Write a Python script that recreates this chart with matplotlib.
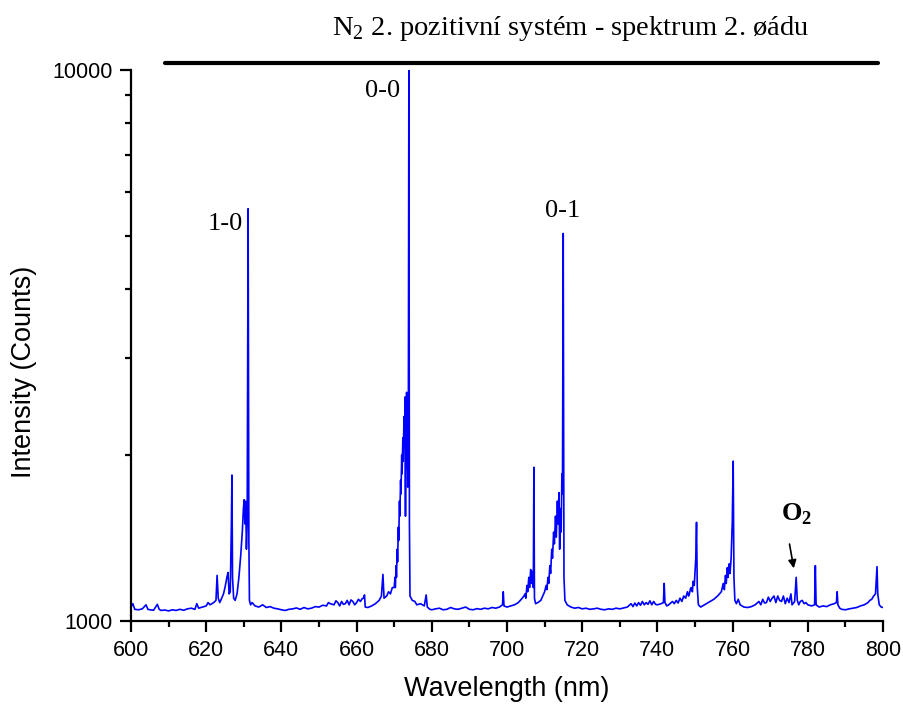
import matplotlib
matplotlib.use("Agg")
import matplotlib.pyplot as plt
import matplotlib.transforms as mtransforms
from matplotlib.ticker import LogLocator, NullFormatter, FixedLocator

plt.rcParams['mathtext.fontset'] = 'custom'
plt.rcParams['mathtext.rm'] = 'Liberation Serif'
plt.rcParams['mathtext.bf'] = 'Liberation Serif:bold'

# spectrum (nm, counts)
wavelength = [
    600, 600.5, 601, 602, 603, 604, 604.5, 605, 606, 607, 607.5, 608, 609, 610,
    611, 612, 613, 614, 615, 616, 617, 617.5, 618, 619, 620, 620.5, 621, 622,
    622.6, 622.9, 623.2, 623.6, 624, 624.6, 625, 625.5, 625.8, 626.1, 626.4,
    626.7, 626.85, 627.0, 627.3, 627.7, 628.2, 628.7, 629.2, 629.6, 629.9,
    630.1, 630.3, 630.5, 630.7, 630.9, 631.15, 631.35, 631.5, 631.8, 632.2,
    633, 634, 635, 636, 637, 638, 639, 640, 641, 642, 643, 644, 645, 646, 647,
    648, 649, 650, 651, 652, 652.5, 653, 654, 654.5, 655, 655.5, 656, 656.5,
    657, 657.5, 658, 658.5, 659, 659.5, 660, 660.5, 661, 661.5, 661.8, 662.1,
    662.3, 663, 664, 665, 666, 666.6, 667.0, 667.3, 668, 668.5, 669, 669.5,
    670.0, 670.2, 670.3, 670.5, 670.6, 670.8, 670.9, 671.1, 671.2, 671.4,
    671.5, 671.7, 671.8, 672.0, 672.1, 672.3, 672.4, 672.6, 672.7, 672.9,
    673.0, 673.1, 673.2, 673.3, 673.4, 673.5, 673.6, 673.75, 673.9, 674.05,
    674.2, 674.8, 675.5, 676, 677, 678, 678.5, 678.8, 679.5, 680, 681,
    682, 683, 684, 685, 686, 687, 688, 689, 690, 691, 692, 693, 694, 695, 696,
    697, 698, 698.8, 699.0, 699.2, 700, 701, 702, 703, 703.8, 704.5, 704.8,
    705.0, 705.3, 705.5, 705.8, 706.0, 706.3, 706.5, 706.8, 707.0, 707.15,
    707.3, 707.6, 708.2, 709.0, 709.5, 710.0, 710.4, 710.6, 710.9, 711.1,
    711.4, 711.6, 711.9, 712.1, 712.4, 712.6, 712.9, 713.1, 713.4, 713.6,
    713.8, 714.0, 714.2, 714.4, 714.6, 714.75, 714.95, 715.15, 715.4, 716,
    717, 718, 719, 720, 721, 722, 723, 724, 725, 726, 727, 728, 729, 730, 731,
    732, 733, 733.5, 734, 734.5, 735, 735.5, 736, 736.5, 737, 737.5, 738,
    738.5, 739, 739.5, 740, 741, 741.6, 741.8, 742.0, 742.5, 743, 744, 744.5,
    745, 745.5, 746, 746.5, 747, 747.5, 748, 748.3, 748.5, 748.8, 749, 749.3,
    749.5, 749.8, 750.2, 750.4, 750.6, 750.9, 751.5, 752, 753, 754, 755, 756,
    757.0, 757.5, 757.8, 758.1, 758.3, 758.6, 758.8, 759.1, 759.3, 759.6,
    759.9, 760.15, 760.35, 760.6, 761, 761.5, 762, 763, 764, 765, 766, 767,
    767.5, 768, 768.5, 769, 769.5, 770, 770.5, 771, 771.5, 772, 772.5, 773,
    773.5, 774, 774.5, 775, 775.5, 775.8, 776.5, 776.9, 777.2, 777.6, 778,
    778.5, 779, 779.5, 780, 781, 781.8, 782.0, 782.2, 783, 784, 785, 786, 787,
    787.6, 787.8, 788.0, 788.5, 789, 790, 791, 792, 793, 794, 795, 796, 796.5,
    797, 797.5, 798, 798.4, 798.6, 799, 799.5, 800,
]
counts = [
    1060, 1075, 1050, 1048, 1052, 1070, 1050, 1048, 1046, 1072, 1050, 1045, 1047, 1043,
    1048, 1045, 1050, 1046, 1052, 1055, 1050, 1075, 1055, 1060, 1065, 1080, 1070, 1080,
    1090, 1210, 1100, 1080, 1095, 1120, 1150, 1200, 1225, 1120, 1130,
    1500, 1840, 1200, 1100, 1090, 1120, 1200, 1320, 1450, 1600,
    1660, 1500, 1650, 1350, 1500, 5600, 1400, 1090, 1070, 1080,
    1065, 1060, 1070, 1058, 1062, 1055, 1052, 1048, 1045, 1050, 1052, 1056, 1050, 1058, 1052,
    1055, 1062, 1060, 1068, 1065, 1080, 1075, 1070, 1088, 1080, 1065, 1085, 1072,
    1075, 1090, 1070, 1092, 1085, 1070, 1080, 1095, 1085, 1098, 1100, 1115,
    1060, 1058, 1065, 1075, 1090, 1110, 1215, 1100, 1110, 1130, 1120, 1150,
    1150, 1200, 1150, 1260, 1200, 1350, 1280, 1480, 1400, 1650,
    1550, 1800, 1700, 2000, 1850, 2150, 1950, 2350, 2100, 2550,
    1550, 2400, 2000, 2600, 1900, 2200, 1750, 2000, 10000, 1500,
    1110, 1090, 1085, 1070, 1075, 1065, 1115, 1060, 1050, 1048, 1052,
    1055, 1048, 1050, 1058, 1052, 1050, 1055, 1060, 1050, 1048, 1053, 1050, 1055, 1052, 1058,
    1055, 1060, 1070, 1130, 1065, 1060, 1065, 1070, 1080, 1095, 1110, 1120,
    1100, 1160, 1130, 1200, 1150, 1240, 1170, 1230, 1150, 1900,
    1100, 1075, 1080, 1090, 1110, 1130, 1160, 1140, 1200, 1170,
    1260, 1220, 1350, 1300, 1450, 1380, 1550, 1420, 1650, 1500,
    1710, 1350, 1600, 1450, 1850, 1700, 5050, 1200, 1090, 1070,
    1060, 1055, 1058, 1052, 1055, 1050, 1052, 1055, 1050, 1048, 1052, 1050, 1055, 1052, 1056,
    1060, 1075, 1062, 1078, 1065, 1080, 1068, 1085, 1070, 1080, 1072, 1088,
    1070, 1085, 1072, 1070, 1075, 1080, 1170, 1080, 1065, 1070, 1085, 1075,
    1090, 1078, 1100, 1085, 1110, 1100, 1130, 1110, 1120, 1145, 1150, 1130,
    1180, 1160, 1300, 1510, 1150, 1070, 1060, 1065, 1075, 1085, 1095, 1110,
    1130, 1170, 1140, 1210, 1170, 1250, 1200, 1270, 1220, 1300,
    1500, 1950, 1200, 1090, 1075, 1095, 1070, 1060, 1058, 1062, 1070, 1085,
    1070, 1095, 1078, 1080, 1105, 1085, 1100, 1110, 1080, 1110, 1090, 1085,
    1110, 1075, 1100, 1080, 1120, 1070, 1085, 1200, 1090, 1070, 1085,
    1090, 1075, 1080, 1070, 1065, 1070, 1260, 1070, 1060, 1065, 1062, 1070, 1075,
    1080, 1130, 1070, 1055, 1050, 1048, 1052, 1055, 1058, 1065, 1070, 1080, 1090,
    1095, 1110, 1120, 1255, 1120, 1070, 1060, 1058,
]

band_labels = ["1-0", "0-0", "0-1"]
band_label_x = [625.0, 666.8, 714.8]
band_label_y = [5250, 9150, 5550]

title = "N$_\\mathrm{2}$ 2. pozitivní systém - spektrum 2. øádu"

fig = plt.figure(figsize=(9.04, 7.06), dpi=100)
ax = fig.add_axes([0.1449, 0.1204, 0.8319, 0.7805])

ax.plot(wavelength, counts, color='#0000ff', lw=1.2)

ax.set_yscale('log')
ax.set(xlim=(600, 800), ylim=(1000, 10000))

ax.xaxis.set_major_locator(FixedLocator(range(600, 801, 20)))
ax.xaxis.set_minor_locator(FixedLocator(range(610, 800, 20)))
ax.yaxis.set_major_locator(FixedLocator([1000, 10000]))
ax.yaxis.set_minor_locator(LogLocator(base=10, subs=range(2, 10)))
ax.yaxis.set_minor_formatter(NullFormatter())
ax.set_yticklabels(["1000", "10000"])

ax.spines['top'].set_visible(False)
ax.spines['right'].set_visible(False)
for s in ['left', 'bottom']:
    ax.spines[s].set_linewidth(1.6)

ax.tick_params(which='major', direction='out', length=8, width=1.6, labelsize=15.5,
               labelfontfamily='Liberation Sans')
ax.tick_params(which='minor', direction='out', length=4.5, width=1.6)
ax.tick_params(axis='x', which='major', pad=6)
ax.tick_params(axis='y', which='major', pad=5)

ax.set_xlabel("Wavelength (nm)", fontsize=19.5, family='Liberation Sans', va='center')
ax.xaxis.set_label_coords(0.499, -0.123)
ax.set_ylabel("Intensity (Counts)", fontsize=19.5, family='Liberation Sans', va='center')
ax.yaxis.set_label_coords(-0.142, 0.453)

for lab, lx, ly in zip(band_labels, band_label_x, band_label_y):
    ax.text(lx, ly, lab, ha='center', va='center', fontsize=19, family='Liberation Serif')

ax.annotate("", xy=(776.4, 1232), xytext=(775.0, 1395),
            arrowprops=dict(arrowstyle='-|>', color='black', lw=1.2, mutation_scale=12))
ax.text(776.9, 1560, "O$_\\mathbf{2}$", ha='center', va='center', fontsize=19,
        family='Liberation Serif', weight='bold')

trans = mtransforms.blended_transform_factory(ax.transData, ax.transAxes)
ax.plot([609, 798.7], [1.0127, 1.0127], color='black', lw=3, transform=trans,
        clip_on=False, solid_capstyle='round')
ax.text(717, 1.076, title, transform=trans, ha='center', va='center', fontsize=20.5,
        family='Liberation Serif')

fig.savefig("out.png", dpi=100)
